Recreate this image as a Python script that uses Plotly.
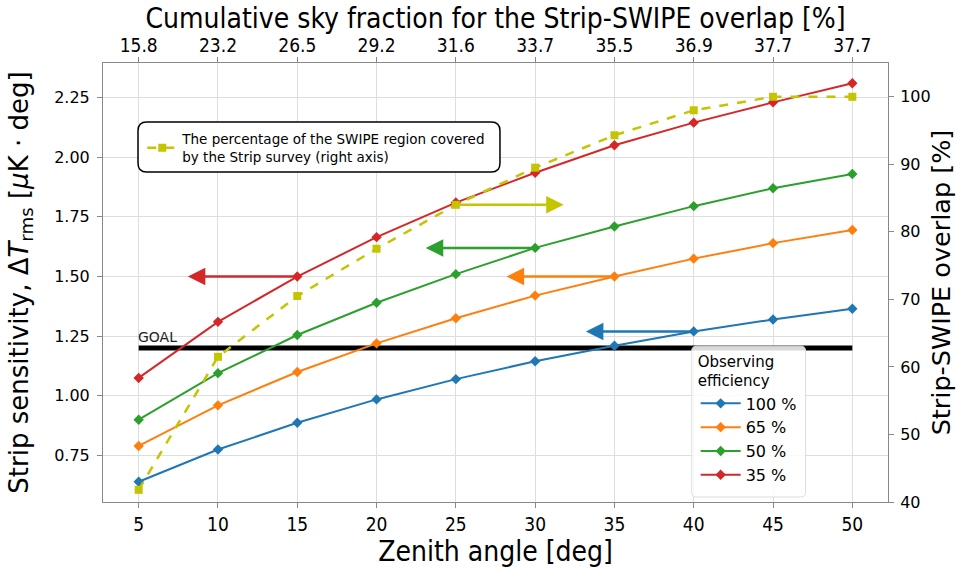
import plotly.graph_objects as go

# ---------------- data ----------------
zenith = [5, 10, 15, 20, 25, 30, 35, 40, 45, 50]
top_tick_labels = ["15.8", "23.2", "26.5", "29.2", "31.6", "33.7", "35.5", "36.9", "37.7", "37.7"]

sens_100 = [0.64, 0.775, 0.887, 0.985, 1.07, 1.145, 1.21, 1.27, 1.32, 1.365]
sens_65 = [0.79, 0.96, 1.10, 1.22, 1.325, 1.42, 1.50, 1.575, 1.64, 1.695]
sens_50 = [0.90, 1.095, 1.255, 1.39, 1.51, 1.62, 1.71, 1.795, 1.87, 1.93]
sens_35 = [1.075, 1.31, 1.50, 1.665, 1.81, 1.935, 2.05, 2.145, 2.23, 2.31]
overlap_pct = [41.8, 61.5, 70.5, 77.5, 84.0, 89.5, 94.3, 98.0, 100.0, 100.0]

series_names = ["100 %", "65 %", "50 %", "35 %"]
series_values = [sens_100, sens_65, sens_50, sens_35]
series_colors = ["#1f77b4", "#ff7f0e", "#2ca02c", "#d62728"]

goal_value = 1.2
goal_x = [5, 50]

# arrows: tail x, head x, y, axis, colour
arrow_tail_x = [15, 30, 35, 40, 25]
arrow_head_x = [8.1, 23.1, 28.2, 33.2, 31.8]
arrow_y = [1.50, 1.62, 1.50, 1.27, 84.0]
arrow_axis = ["y", "y", "y", "y", "y2"]
arrow_colors = ["#d62728", "#2ca02c", "#ff7f0e", "#1f77b4", "#c4c400"]

yellow = "#c4c400"
x_range = [2.75, 52.25]
y_range = [0.555, 2.395]
y2_range = [40, 105]

narrow = "Liberation Sans Narrow, DejaVu Sans Condensed, Arial Narrow, sans-serif"
wide = "DejaVu Sans, Verdana, sans-serif"

fig = go.Figure()

# goal line
fig.add_trace(go.Scatter(x=goal_x, y=[goal_value, goal_value], mode="lines",
                         line=dict(color="black", width=5), showlegend=False,
                         hoverinfo="skip"))

for name, vals, col in zip(series_names, series_values, series_colors):
    fig.add_trace(go.Scatter(x=zenith, y=vals, mode="lines+markers", name=name,
                             line=dict(color=col, width=2),
                             marker=dict(symbol="diamond", size=8, color=col),
                             legend="legend"))

fig.add_trace(go.Scatter(x=zenith, y=overlap_pct, yaxis="y2", mode="lines+markers",
                         name="The percentage of the SWIPE region covered<br>by the Strip survey (right axis)",
                         line=dict(color=yellow, width=2.5, dash="dash"),
                         marker=dict(symbol="square", size=8, color=yellow),
                         legend="legend2"))

# invisible trace to carry the top axis
fig.add_trace(go.Scatter(x=zenith, y=sens_100, xaxis="x2", mode="markers",
                         marker=dict(opacity=0), showlegend=False, hoverinfo="skip"))

annotations = []
for tx, hx, ay, ax_, col in zip(arrow_tail_x, arrow_head_x, arrow_y, arrow_axis, arrow_colors):
    annotations.append(dict(x=hx, y=ay, ax=tx, ay=ay, xref="x", yref=ax_,
                            axref="x", ayref=ax_, showarrow=True, arrowhead=2,
                            arrowsize=1.4, arrowwidth=2.5, arrowcolor=col, text=" "))
annotations.append(dict(x=goal_x[0], y=goal_value, xref="x", yref="y", text="GOAL",
                        showarrow=False, xanchor="left", yanchor="bottom", yshift=1, xshift=-3,
                        font=dict(family=wide, size=14, color="#222")))

def rounded_box(x0, y0, x1, y1, rx, ry):
    return (f"M {x0+rx},{y0} L {x1-rx},{y0} Q {x1},{y0} {x1},{y0+ry} "
            f"L {x1},{y1-ry} Q {x1},{y1} {x1-rx},{y1} L {x0+rx},{y1} "
            f"Q {x0},{y1} {x0},{y1-ry} L {x0},{y0+ry} Q {x0},{y0} {x0+rx},{y0} Z")

shapes = [
    dict(type="path", xref="paper", yref="paper",
         path=rounded_box(0.0446, 0.7517, 0.5057, 0.8656, 0.011, 0.02),
         line=dict(color="black", width=1.5), fillcolor="white", layer="above"),
    dict(type="path", xref="paper", yref="paper",
         path=rounded_box(0.750, 0.0114, 0.895, 0.355, 0.006, 0.011),
         line=dict(color="#dddddd", width=1), fillcolor="rgba(255,255,255,0.85)", layer="above"),
]

axis_common = dict(showline=True, linecolor="#888888", linewidth=1, mirror=False,
                   ticks="outside", ticklen=5, tickcolor="#888888", automargin=False)

fig.update_layout(
    width=956, height=568,
    margin=dict(l=103, r=68, t=63, b=66),
    plot_bgcolor="white", paper_bgcolor="white",
    font=dict(family=wide, color="black"),
    title=dict(text="Cumulative sky fraction for the Strip-SWIPE overlap [%]",
               font=dict(family=narrow, size=28, color="black"),
               x=0.5, xref="paper", xanchor="center",
               y=1 - 18 / 568, yref="container", yanchor="middle"),
    xaxis=dict(range=x_range, tickvals=zenith, showgrid=True, gridcolor="#dedede",
               zeroline=False, tickfont=dict(family=narrow, size=19),
               title=dict(text="Zenith angle [deg]", font=dict(family=narrow, size=28), standoff=2),
               **axis_common),
    xaxis2=dict(range=x_range, overlaying="x", side="top", anchor="y",
                tickvals=zenith, ticktext=top_tick_labels, showgrid=False, zeroline=False,
                tickfont=dict(family=narrow, size=19), ticklabelstandoff=-3,
                **axis_common),
    yaxis=dict(range=y_range, tickvals=[0.75, 1.0, 1.25, 1.5, 1.75, 2.0, 2.25],
               ticktext=["0.75", "1.00", "1.25", "1.50", "1.75", "2.00", "2.25"],
               showgrid=True, gridcolor="#dedede", zeroline=False,
               tickfont=dict(family=wide, size=16), ticklabelstandoff=4,
               title=dict(text="Strip sensitivity, Δ<i>T</i><sub>rms</sub> [<i>μ</i>K · deg]",
                          font=dict(family=wide, size=26), standoff=18),
               **axis_common),
    yaxis2=dict(range=y2_range, overlaying="y", side="right", anchor="x",
                tickvals=[40, 50, 60, 70, 80, 90, 100], showgrid=False, zeroline=False,
                tickfont=dict(family=wide, size=16), ticklabelstandoff=3,
                title=dict(text="Strip-SWIPE overlap [%]", font=dict(family=wide, size=25.5), standoff=3),
                **axis_common),
    legend=dict(x=0.755, y=0.352, xanchor="left", yanchor="top",
                bgcolor="rgba(0,0,0,0)", borderwidth=0,
                title=dict(text="Observing<br>efficiency", font=dict(family=wide, size=15)),
                font=dict(family=wide, size=16), tracegroupgap=0, itemwidth=40),
    legend2=dict(x=0.05, y=0.862, xanchor="left", yanchor="top",
                 bgcolor="rgba(0,0,0,0)", borderwidth=0,
                 font=dict(family=wide, size=13.5), itemwidth=30),
    annotations=annotations,
    shapes=shapes,
    showlegend=True,
)

fig.write_html("out.html", post_script="document.body.style.margin='0';",
               config={"displayModeBar": False})
